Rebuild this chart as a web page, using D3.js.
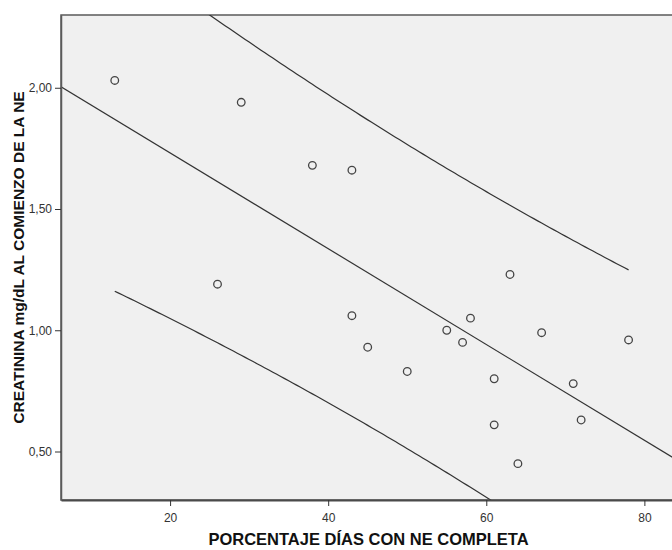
<!DOCTYPE html>
<html>
<head>
<meta charset="utf-8">
<script src="https://cdn.jsdelivr.net/npm/d3@7"></script>
<style>
  body { margin: 0; background: #fff; }
  text { font-family: "Liberation Sans", Arial, sans-serif; }
</style>
</head>
<body>
<div id="chart"></div>
<script>
// porcentaje de dias con NE completa vs creatinina al comienzo
var pctDias = [13, 29, 38, 43, 26, 63, 43, 45, 55, 58, 57, 50, 67, 78, 61, 71, 72, 61, 64];
var creatinina = [2.03, 1.94, 1.68, 1.66, 1.19, 1.23, 1.06, 0.93, 1.00, 1.05, 0.95, 0.83, 0.99, 0.96, 0.80, 0.78, 0.63, 0.61, 0.45];
var xTicks = [20, 40, 60, 80];
var yTicks = [0.5, 1.0, 1.5, 2.0];
var tValue = 2.110; // t(0.975, df = 17)

var width = 672, height = 550;
var pLeft = 61, pTop = 15, pBottom = 500, pRight = 676;

var svg = d3.select("#chart")
	.append("svg")
		.attr("width", width)
		.attr("height", height)
		.attr("viewBox", [0, 0, width, height]);

var x = d3.scaleLinear().domain([6.2, 84]).range([pLeft, pRight]);
var y = d3.scaleLinear().domain([0.3, 2.3]).range([pBottom, pTop]);

svg.append("defs").append("clipPath")
	.attr("id", "clip")
	.append("rect")
		.attr("x", pLeft).attr("y", pTop)
		.attr("width", pRight - pLeft).attr("height", pBottom - pTop);

// plot background
svg.append("rect")
	.attr("x", pLeft).attr("y", pTop)
	.attr("width", pRight - pLeft).attr("height", pBottom - pTop)
	.attr("fill", "#f0f0f0")
	.attr("stroke", "#5a5a5a")
	.attr("stroke-width", 1.5);

// least squares fit + 95% prediction interval
var pts = pctDias.map((d, i) => [d, creatinina[i]]);
var n = pts.length;
var mx = d3.mean(pctDias), my = d3.mean(creatinina);
var sxx = d3.sum(pctDias, d => (d - mx) * (d - mx));
var sxy = d3.sum(pts, d => (d[0] - mx) * (d[1] - my));
var slope = sxy / sxx, icpt = my - slope * mx;
var sse = d3.sum(pts, d => Math.pow(d[1] - (icpt + slope * d[0]), 2));
var s = Math.sqrt(sse / (n - 2));
function fit(v) { return icpt + slope * v; }
function half(v) { return tValue * s * Math.sqrt(1 + 1 / n + (v - mx) * (v - mx) / sxx); }

var g = svg.append("g").attr("clip-path", "url(#clip)");
var line = d3.line().x(d => x(d[0])).y(d => y(d[1]));

g.append("path")
	.attr("d", line(x.domain().map(v => [v, fit(v)])))
	.attr("fill", "none").attr("stroke", "#333").attr("stroke-width", 1.2);

var xs = d3.range(d3.min(pctDias), d3.max(pctDias) + 0.01, 0.5);
g.append("path")
	.attr("d", line(xs.map(v => [v, fit(v) + half(v)])))
	.attr("fill", "none").attr("stroke", "#333").attr("stroke-width", 1.2);
g.append("path")
	.attr("d", line(xs.map(v => [v, fit(v) - half(v)])))
	.attr("fill", "none").attr("stroke", "#333").attr("stroke-width", 1.2);

// points
g.selectAll(".pt")
	.data(pts)
	.join("circle")
	.attr("class", "pt")
	.attr("cx", d => x(d[0]))
	.attr("cy", d => y(d[1]))
	.attr("r", 3.8)
	.attr("fill", "none")
	.attr("stroke", "#444")
	.attr("stroke-width", 1.3);

// axes
var xAxis = svg.append("g")
	.attr("transform", "translate(0," + pBottom + ")")
	.call(d3.axisBottom(x).tickValues(xTicks).tickSize(6).tickSizeOuter(0).tickPadding(7));
var yAxis = svg.append("g")
	.attr("transform", "translate(" + pLeft + ",0)")
	.call(d3.axisLeft(y).tickValues(yTicks).tickSize(6).tickSizeOuter(0).tickPadding(3)
		.tickFormat(d => d3.format(".2f")(d).replace(".", ",")));

xAxis.select(".domain").attr("stroke", "#4a4a4a").attr("stroke-width", 2.2);
yAxis.select(".domain").attr("stroke", "#5a5a5a").attr("stroke-width", 1.5);
[xAxis, yAxis].forEach(a => {
	a.selectAll(".tick line").attr("stroke", "#333");
	a.selectAll(".tick text")
		.attr("fill", "#333")
		.style("font-size", "12px")
		.style("font-family", "'Liberation Sans', Arial, sans-serif");
});

// axis titles
svg.append("text")
	.attr("x", (pLeft + pRight) / 2)
	.attr("y", 545)
	.attr("text-anchor", "middle")
	.style("font-size", "16.5px")
	.style("font-weight", "bold")
	.attr("fill", "#111")
	.text("PORCENTAJE DÍAS CON NE COMPLETA");

svg.append("text")
	.attr("transform", "translate(24," + (pTop + pBottom) / 2 + ") rotate(-90)")
	.attr("text-anchor", "middle")
	.style("font-size", "15.5px")
	.style("font-weight", "bold")
	.attr("fill", "#111")
	.text("CREATININA mg/dL AL COMIENZO DE LA NE");
</script>
</body>
</html>
